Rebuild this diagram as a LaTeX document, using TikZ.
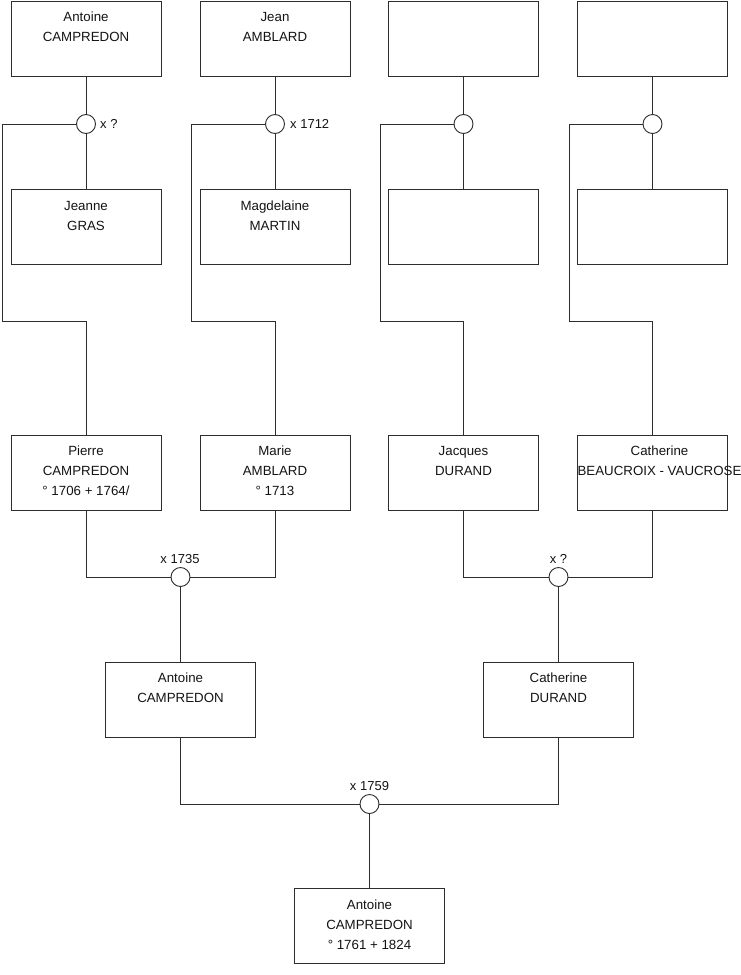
\documentclass[tikz,border=0pt]{standalone}
\usepackage{fontspec}
\setmainfont{Liberation Sans}
\definecolor{lc}{RGB}{45,45,45}
\definecolor{tc}{RGB}{20,20,20}
\begin{document}
\begin{tikzpicture}[x=1pt,y=-1pt,
  person/.style={draw=lc, line width=0.9pt, fill=white, minimum width=150pt, minimum height=75pt, inner sep=0pt},
  wed/.style={circle, draw=lc, line width=0.9pt, fill=white, minimum size=19pt, inner sep=0pt},
  link/.style={draw=lc, line width=0.9pt},
  txt/.style={font=\fontsize{13.3}{20}\selectfont, align=center, anchor=base, inner sep=0pt, text=tc},
  lbl/.style={font=\fontsize{13}{15}\selectfont, inner sep=0pt, text=tc}]
\useasboundingbox[fill=white] (0,0) rectangle (740,975);
% persons
\node[person] (p11) at (86,38.5) {};
\node[person] (p12) at (275,38.5) {};
\node[person] (p13) at (463.5,38.5) {};
\node[person] (p14) at (652.5,38.5) {};
\node[person] (p21) at (86,227) {};
\node[person] (p22) at (275,227) {};
\node[person] (p23) at (463.5,227) {};
\node[person] (p24) at (652.5,227) {};
\node[person] (p31) at (86,472.5) {};
\node[person] (p32) at (275,472.5) {};
\node[person] (p33) at (463.5,472.5) {};
\node[person] (p34) at (652.5,472.5) {};
\node[person] (p41) at (180.5,699.5) {};
\node[person] (p42) at (558.5,699.5) {};
\node[person] (p5) at (369.5,926) {};
% texts (base anchor = baseline of last line)
\node[txt] at ([yshift=-41pt]p11.north) {Antoine\\CAMPREDON};
\node[txt] at ([yshift=-41pt]p12.north) {Jean\\AMBLARD};
\node[txt] at ([yshift=-41pt]p21.north) {Jeanne\\GRAS};
\node[txt] at ([yshift=-41pt]p22.north) {Magdelaine\\MARTIN};
\node[txt] at ([yshift=-61pt]p31.north) {Pierre\\CAMPREDON\\° 1706 + 1764/};
\node[txt] at ([yshift=-61pt]p32.north) {Marie\\AMBLARD\\° 1713};
\node[txt] at ([yshift=-41pt]p33.north) {Jacques\\DURAND};
\node[txt] at ([yshift=-41pt,xshift=7pt]p34.north) {Catherine\\BEAUCROIX - VAUCROSE};
\node[txt] at ([yshift=-41pt]p41.north) {Antoine\\CAMPREDON};
\node[txt] at ([yshift=-41pt]p42.north) {Catherine\\DURAND};
\node[txt] at ([yshift=-61pt]p5.north) {Antoine\\CAMPREDON\\° 1761 + 1824};
% unions
\node[wed] (w1) at (86,124) {};
\node[wed] (w2) at (275,124) {};
\node[wed] (w3) at (463.5,124) {};
\node[wed] (w4) at (652.5,124) {};
\node[wed] (w5) at (180.5,577) {};
\node[wed] (w6) at (558.5,577) {};
\node[wed] (w7) at (369.5,804) {};
% union labels
\node[lbl, anchor=base west] (l1) at (100,128.5) {x ?};
\node[lbl, anchor=base west] (l2) at (290,128.5) {x 1712};
\node[lbl, anchor=base] (l5) at (180,563) {x 1735};
\node[lbl, anchor=base] (l6) at (558.5,563) {x ?};
\node[lbl, anchor=base] (l7) at (369.5,790) {x 1759};
% rail corners
\coordinate (c1) at (2,321);
\coordinate (c2) at (191,321);
\coordinate (c3) at (380,321);
\coordinate (c4) at (569,321);
% connectors
\foreach \i in {1,2,3,4}{
  \draw[link] (p1\i.south) -- (w\i.north);
  \draw[link] (w\i.south) -- (p2\i.north);
  \draw[link] (w\i.west) -| (c\i) -| (p3\i.north);
}
\draw[link] (p31.south) |- (w5.west);
\draw[link] (p32.south) |- (w5.east);
\draw[link] (w5.south) -- (p41.north);
\draw[link] (p33.south) |- (w6.west);
\draw[link] (p34.south) |- (w6.east);
\draw[link] (w6.south) -- (p42.north);
\draw[link] (p41.south) |- (w7.west);
\draw[link] (p42.south) |- (w7.east);
\draw[link] (w7.south) -- (p5.north);
\end{tikzpicture}
\end{document}
